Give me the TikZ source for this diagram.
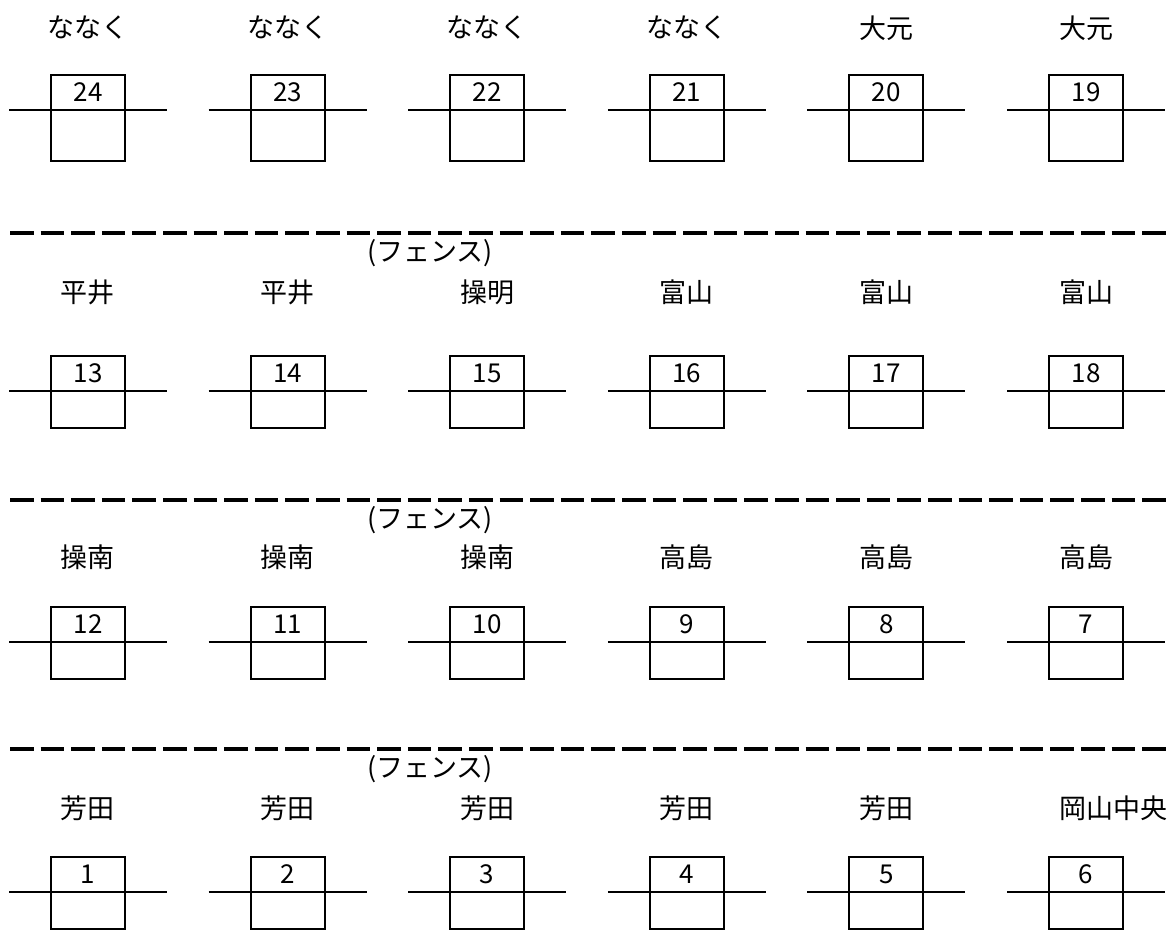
\documentclass[tikz,border=0pt]{standalone}
\usepackage{fontspec}
\setmainfont{Noto Sans CJK JP}
\usepackage{tikz}
\usetikzlibrary{positioning}
\tikzset{post/.style={draw, line width=1pt, minimum width=37pt, inner sep=0pt}}
\tikzset{wire/.style={line width=0.8pt}}
\tikzset{fence/.style={line width=1.8pt, dash pattern=on 11.8pt off 3.5pt}}
\tikzset{place/.style={inner sep=0pt, font=\fontsize{13.5}{13.5}\selectfont}}
\tikzset{num/.style={inner sep=0pt, font=\fontsize{13}{13}\selectfont}}

\begin{document}
\begin{tikzpicture}[x=0.5pt, y=-0.5pt]
      \useasboundingbox (0,0) rectangle (1167,932);
      \foreach \n/\t [count=\i from 0] in {24/ななく,23/ななく,22/ななく,21/ななく,20/大元,19/大元}{
        \node[place] (p\n) at (88+199.6*\i,28) {\t};
        \node[post, minimum height=43pt] (b\n) at (88+199.6*\i,118) {};
        \node[num] (n\n) at (88+199.6*\i,92.5) {\n};
        \coordinate (w\n) at (9+199.6*\i,110);
        \coordinate (e\n) at (167+199.6*\i,110);
        \draw[wire] (w\n) -- (e\n);
      }
      \foreach \n/\t [count=\i from 0] in {13/平井,14/平井,15/操明,16/富山,17/富山,18/富山}{
        \node[place] (p\n) at (88+199.6*\i,292) {\t};
        \node[post, minimum height=36pt] (b\n) at (88+199.6*\i,392) {};
        \node[num] (n\n) at (88+199.6*\i,373.5) {\n};
        \coordinate (w\n) at (9+199.6*\i,391);
        \coordinate (e\n) at (167+199.6*\i,391);
        \draw[wire] (w\n) -- (e\n);
      }
      \foreach \n/\t [count=\i from 0] in {12/操南,11/操南,10/操南,9/高島,8/高島,7/高島}{
        \node[place] (p\n) at (88+199.6*\i,557) {\t};
        \node[post, minimum height=36pt] (b\n) at (88+199.6*\i,643) {};
        \node[num] (n\n) at (88+199.6*\i,624.5) {\n};
        \coordinate (w\n) at (9+199.6*\i,642);
        \coordinate (e\n) at (167+199.6*\i,642);
        \draw[wire] (w\n) -- (e\n);
      }
      \foreach \n/\t/\dx [count=\i from 0] in {1/芳田/0,2/芳田/0,3/芳田/0,4/芳田/0,5/芳田/0,6/岡山中央/27}{
        \node[place] (p\n) at (88+199.6*\i+\dx,808) {\t};
        \node[post, minimum height=36pt] (b\n) at (88+199.6*\i,893) {};
        \node[num] (n\n) at (88+199.6*\i,874.5) {\n};
        \coordinate (w\n) at (9+199.6*\i,892);
        \coordinate (e\n) at (167+199.6*\i,892);
        \draw[wire] (w\n) -- (e\n);
      }
      \foreach \r/\y in {1/233,2/500,3/749}{
        \coordinate (fw\r) at (10,\y);
        \coordinate (fe\r) at (1167,\y);
        \draw[fence] (fw\r) -- (fe\r);
        \node[place] (fl\r) at (430,\y+20) {(フェンス)};
      }
    \end{tikzpicture}
\end{document}
